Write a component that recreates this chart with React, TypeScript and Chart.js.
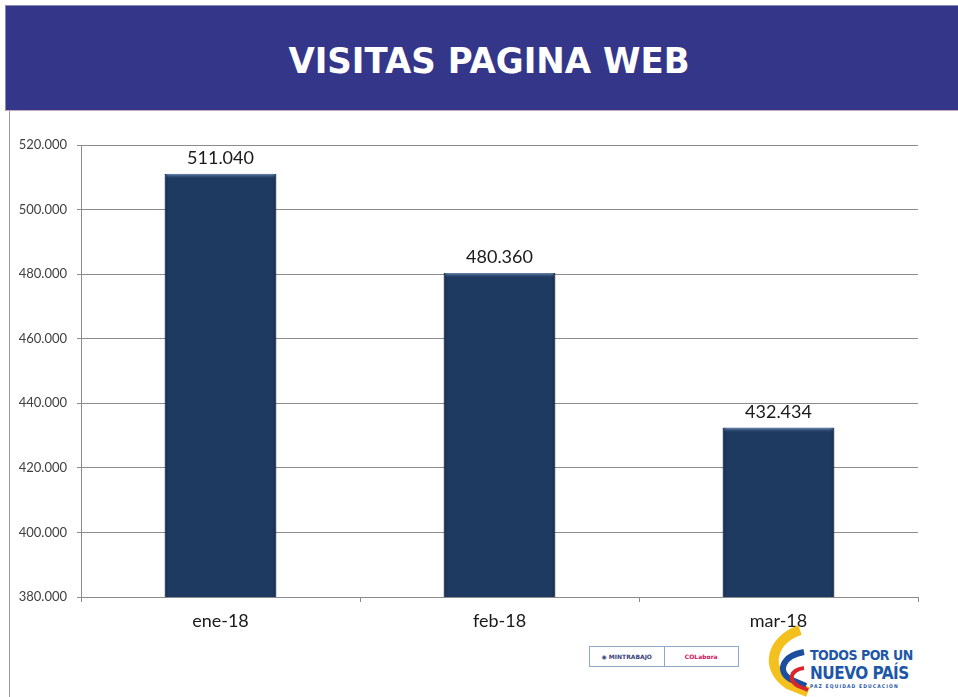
import React, { useEffect, useRef } from "react";
import { Chart, registerables } from "chart.js";
Chart.register(...registerables);

const categories = ["ene-18", "feb-18", "mar-18"];
const visits = [511040, 480360, 432434];
const yMin = 380000;
const yMax = 520000;
const yStep = 20000;
const title = "VISITAS PAGINA WEB";

function fmt(n: number): string {
  return Math.round(n).toString().replace(/\B(?=(\d{3})+(?!\d))/g, ".");
}

const valueLabels = {
  id: "valueLabels",
  afterDatasetsDraw(chart: any) {
    const ctx = chart.ctx;
    const meta = chart.getDatasetMeta(0);
    const bottom = chart.chartArea.bottom;
    ctx.save();
    meta.data.forEach((bar: any, i: number) => {
      const left = bar.x - bar.width / 2;
      const g = ctx.createLinearGradient(0, bar.y, 0, bar.y + 5);
      g.addColorStop(0, "#6f8db5");
      g.addColorStop(1, "rgba(31,58,97,0)");
      ctx.fillStyle = g;
      ctx.fillRect(left + 1, bar.y, bar.width - 2, 5);
      const s = ctx.createLinearGradient(left, 0, left + bar.width, 0);
      s.addColorStop(0, "rgba(10,25,45,0.35)");
      s.addColorStop(0.04, "rgba(10,25,45,0)");
      s.addColorStop(0.96, "rgba(10,25,45,0)");
      s.addColorStop(1, "rgba(10,25,45,0.35)");
      ctx.fillStyle = s;
      ctx.fillRect(left, bar.y, bar.width, bottom - bar.y);
      ctx.fillStyle = "#1a1a1a";
      ctx.font = "18px Lato, 'Open Sans', sans-serif";
      ctx.textAlign = "center";
      ctx.textBaseline = "bottom";
      ctx.fillText(fmt(visits[i]), bar.x, bar.y - 7);
    });
    ctx.restore();
  },
};

function ChartCanvas() {
  const ref = useRef<HTMLCanvasElement | null>(null);
  useEffect(() => {
    if (!ref.current) return;
    const chart = new Chart(ref.current, {
      type: "bar",
      data: {
        labels: categories,
        datasets: [
          {
            data: visits,
            backgroundColor: "#1f3a61",
            borderColor: "#172c4b",
            borderWidth: 1,
            barPercentage: 0.4,
            categoryPercentage: 1,
          },
        ],
      },
      options: {
        animation: false,
        responsive: false,
        maintainAspectRatio: false,
        layout: { padding: { top: 145, right: 40, left: 0, bottom: 0 } },
        plugins: { legend: { display: false }, tooltip: { enabled: false } },
        scales: {
          x: {
            afterFit: (s: any) => {
              s.height = 100;
            },
            grid: {
              offset: true,
              drawOnChartArea: false,
              drawTicks: true,
              tickLength: 5,
              color: "#8c8c8c",
            },
            border: { color: "#8c8c8c", width: 1 },
            ticks: {
              color: "#1a1a1a",
              padding: 8,
              font: { size: 18, family: "Lato, 'Open Sans', sans-serif" },
            },
          },
          y: {
            min: yMin,
            max: yMax,
            afterFit: (s: any) => {
              s.width = 81;
            },
            grid: { color: "#8c8c8c", tickLength: 4, drawTicks: true },
            border: { color: "#8c8c8c", width: 1 },
            ticks: {
              stepSize: yStep,
              padding: 10,
              color: "#404040",
              font: { size: 13, family: "Lato, 'Open Sans', sans-serif" },
              callback: (v: any) => fmt(Number(v)),
            },
          },
        },
      },
      plugins: [valueLabels],
    });
    return () => chart.destroy();
  }, []);
  return (
    <canvas
      ref={ref}
      width={958}
      height={697}
      style={{ position: "absolute", left: 0, top: 0, width: 958, height: 697 }}
    />
  );
}

export default function App() {
  return (
    <div
      style={{
        position: "fixed",
        left: 0,
        top: 0,
        width: 958,
        height: 697,
        background: "#ffffff",
        overflow: "hidden",
      }}
    >
      <div
        style={{
          position: "absolute",
          left: 5,
          top: 5,
          width: 953,
          height: 106,
          background: "#34368a",
          borderTop: "1px solid #8a8ab0",
          borderLeft: "1px solid #8a8ab0",
          borderBottom: "1px solid #c8a8b8",
          boxSizing: "border-box",
        }}
      >
        <div
          style={{
            position: "absolute",
            left: 0,
            right: 0,
            top: 34,
            textAlign: "center",
            color: "#ffffff",
            fontFamily: "'DejaVu Sans', sans-serif",
            fontWeight: "bold",
            fontSize: 34,
            lineHeight: "40px",
            paddingLeft: 14,
            transform: "scaleY(1.05)",
          }}
        >
          {title}
        </div>
      </div>
      <div
        style={{
          position: "absolute",
          left: 9,
          top: 111,
          width: 1,
          height: 586,
          background: "#9a9a9a",
        }}
      />
      <div
        style={{
          position: "absolute",
          left: 589,
          top: 646,
          width: 150,
          height: 21,
          border: "1px solid #8fa7c8",
          boxSizing: "border-box",
          display: "flex",
          fontFamily: "'DejaVu Sans', sans-serif",
          fontSize: 6,
          fontWeight: "bold",
        }}
      >
        <div
          style={{
            flex: 1,
            borderRight: "1px solid #8fa7c8",
            display: "flex",
            alignItems: "center",
            justifyContent: "center",
            color: "#3a3f7a",
          }}
        >
          ◉ MINTRABAJO
        </div>
        <div
          style={{
            flex: 1,
            display: "flex",
            alignItems: "center",
            justifyContent: "center",
            color: "#d0105a",
          }}
        >
          COLabora
        </div>
      </div>
      <svg
        width={60}
        height={75}
        style={{ position: "absolute", left: 758, top: 622 }}
      >
        <path d="M42 8 C 14 18, 6 45, 30 62 L 50 70" stroke="#f4c01e" strokeWidth={10} fill="none" />
        <path d="M46 30 C 24 34, 18 50, 34 58 L 48 64" stroke="#1d4e9e" strokeWidth={6} fill="none" />
        <path d="M46 46 C 32 48, 30 58, 40 64 L 50 68" stroke="#d9262c" strokeWidth={4} fill="none" />
      </svg>
      <div
        style={{
          position: "absolute",
          left: 810,
          top: 646,
          color: "#1e56a8",
          fontFamily: "'DejaVu Sans Condensed', 'DejaVu Sans', sans-serif",
          fontWeight: "bold",
          lineHeight: "18px",
        }}
      >
        <div style={{ fontSize: 14, letterSpacing: -0.5 }}>TODOS POR UN</div>
        <div style={{ fontSize: 17, letterSpacing: -0.5 }}>NUEVO PAÍS</div>
        <div style={{ fontSize: 5, lineHeight: "8px", letterSpacing: 1.1, color: "#2a5aa8" }}>
          PAZ EQUIDAD EDUCACIÓN
        </div>
      </div>
      <ChartCanvas />
    </div>
  );
}
